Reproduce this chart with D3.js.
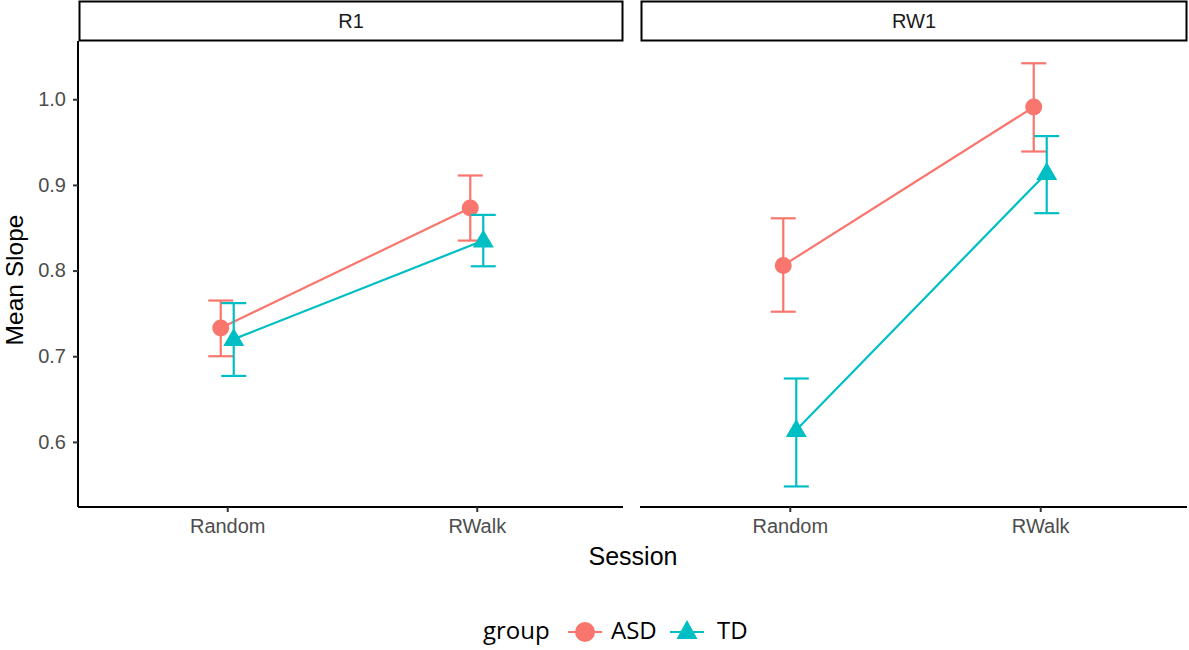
<!DOCTYPE html>
<html><head><meta charset="utf-8">
<script src="https://cdn.jsdelivr.net/npm/d3@7"></script>
<style>body{margin:0;background:#fff}</style>
</head><body>
<svg id="c" width="1189" height="650"></svg>
<script>
const panels = ["R1", "RW1"];
const sessions = ["Random", "RWalk"];
const groups = ["ASD", "TD"];
const colors = ["#F8766D", "#00BFC4"];
const yTicks = [0.6, 0.7, 0.8, 0.9, 1.0];
// mean, lower, upper  per panel -> group -> session
const R1_ASD_mean = [0.733, 0.873], R1_ASD_lo = [0.700, 0.835], R1_ASD_hi = [0.765, 0.911];
const R1_TD_mean  = [0.720, 0.835], R1_TD_lo  = [0.677, 0.805], R1_TD_hi  = [0.762, 0.865];
const RW1_ASD_mean = [0.806, 0.991], RW1_ASD_lo = [0.752, 0.939], RW1_ASD_hi = [0.861, 1.042];
const RW1_TD_mean  = [0.614, 0.914], RW1_TD_lo  = [0.548, 0.867], RW1_TD_hi  = [0.674, 0.957];

const data = {
  R1: {ASD: {m: R1_ASD_mean, lo: R1_ASD_lo, hi: R1_ASD_hi}, TD: {m: R1_TD_mean, lo: R1_TD_lo, hi: R1_TD_hi}},
  RW1: {ASD: {m: RW1_ASD_mean, lo: RW1_ASD_lo, hi: RW1_ASD_hi}, TD: {m: RW1_TD_mean, lo: RW1_TD_lo, hi: RW1_TD_hi}}
};

const svg = d3.select("#c");
const pTop = 41, pBottom = 507;
const panelX = [[79, 623], [641, 1187]];
const y = d3.scaleLinear().domain([0.524, 1.068]).range([pBottom, pTop]);
const dodge = 6.5;
const font = "'Liberation Sans', Arial, sans-serif";

panels.forEach((p, pi) => {
  const [x0, x1] = panelX[pi];
  const x = d3.scalePoint().domain(sessions).range([x0 + 1, x1 + 1]).padding(0.59);
  const g = svg.append("g");
  // strip
  g.append("rect").attr("x", x0 + 0.5).attr("y", 1.5).attr("width", x1 - x0 - 1).attr("height", 39)
    .attr("fill", "#fff").attr("stroke", "#000").attr("stroke-width", 2);
  g.append("text").attr("x", (x0 + x1) / 2).attr("y", 28).attr("text-anchor", "middle")
    .attr("font-family", font).attr("font-size", 20).attr("fill", "#1a1a1a").text(p);
  // x axis
  const xa = g.append("g").attr("transform", `translate(0,${pBottom})`)
    .call(d3.axisBottom(x).tickSize(5).tickPadding(7).tickSizeOuter(0));
  xa.attr("font-size", null).attr("font-family", null);
  xa.select(".domain").attr("stroke", "#000").attr("stroke-width", 2).attr("d", `M${x0 - 1},0H${x1}`);
  xa.selectAll(".tick line").attr("stroke", "#333").attr("stroke-width", 2);
  xa.selectAll(".tick text").attr("font-family", font).attr("font-size", 20).attr("fill", "#4d4d4d");
  if (pi === 0) {
    const ya = g.append("g").attr("transform", `translate(${x0 - 1},0)`)
      .call(d3.axisLeft(y).tickValues(yTicks).tickFormat(d3.format(".1f")).tickSize(5).tickPadding(7).tickSizeOuter(0));
    ya.attr("font-size", null).attr("font-family", null);
    ya.select(".domain").attr("stroke", "#000").attr("stroke-width", 2).attr("d", `M0,${pTop}V${pBottom}`);
    ya.selectAll(".tick line").attr("stroke", "#333").attr("stroke-width", 2);
    ya.selectAll(".tick text").attr("font-family", font).attr("font-size", 20).attr("fill", "#4d4d4d");
  }
  groups.forEach((gr, gi) => {
    const d = data[p][gr];
    const off = gi === 0 ? -dodge : dodge;
    const pts = sessions.map((s, si) => ({x: x(s) + off, m: d.m[si], lo: d.lo[si], hi: d.hi[si]}));
    const col = colors[gi];
    g.append("path").attr("d", d3.line().x(v => v.x).y(v => y(v.m))(pts))
      .attr("fill", "none").attr("stroke", col).attr("stroke-width", 2.2);
    pts.forEach(v => {
      g.append("line").attr("x1", v.x).attr("x2", v.x).attr("y1", y(v.lo)).attr("y2", y(v.hi))
        .attr("stroke", col).attr("stroke-width", 2.2);
      [v.lo, v.hi].forEach(e => g.append("line").attr("x1", v.x - 12.5).attr("x2", v.x + 12.5)
        .attr("y1", y(e)).attr("y2", y(e)).attr("stroke", col).attr("stroke-width", 2.2));
    });
    pts.forEach(v => {
      if (gi === 0) g.append("circle").attr("cx", v.x).attr("cy", y(v.m)).attr("r", 8.5).attr("fill", col);
      else g.append("path").attr("transform", `translate(${v.x},${y(v.m)})`)
        .attr("d", "M0,-11L10.5,7L-10.5,7Z").attr("fill", col);
    });
  });
});

// axis titles
svg.append("text").attr("x", 633).attr("y", 565).attr("text-anchor", "middle")
  .attr("font-family", font).attr("font-size", 25).attr("fill", "#000").text("Session");
svg.append("text").attr("transform", "translate(23,280) rotate(-90)").attr("text-anchor", "middle")
  .attr("font-family", font).attr("font-size", 24.5).attr("fill", "#000").text("Mean Slope");

// legend
const lf = "'Open Sans', 'Noto Sans', sans-serif";
const leg = svg.append("g");
leg.append("text").attr("x", 483).attr("y", 639).attr("font-family", lf).attr("font-size", 24).attr("fill", "#000").text("group");
const keyX = [568, 670], labX = [611, 717];
groups.forEach((gr, gi) => {
  const cx = keyX[gi] + 17;
  leg.append("line").attr("x1", keyX[gi]).attr("x2", keyX[gi] + 34).attr("y1", 632).attr("y2", 632)
    .attr("stroke", colors[gi]).attr("stroke-width", 2.2);
  if (gi === 0) leg.append("circle").attr("cx", cx).attr("cy", 632).attr("r", 10).attr("fill", colors[gi]);
  else leg.append("path").attr("transform", `translate(${cx},632)`).attr("d", "M0,-12L10.5,7L-10.5,7Z").attr("fill", colors[gi]);
  leg.append("text").attr("x", labX[gi]).attr("y", 639).attr("font-family", lf).attr("font-size", 24).attr("fill", "#000").text(gr);
});
</script>
</body></html>
